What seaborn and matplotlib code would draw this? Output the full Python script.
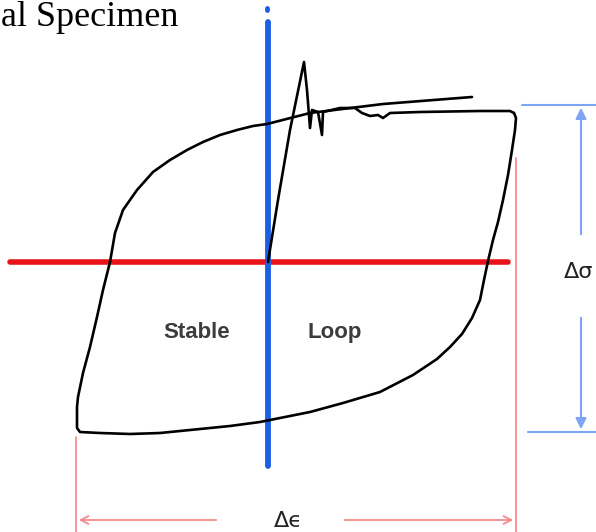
import numpy as np
import pandas as pd
import matplotlib
matplotlib.use("Agg")
import matplotlib.pyplot as plt
import seaborn as sns

sns.set_theme(style="white")

# Canvas is laid out in pixel-like units: origin of the stress-strain axes
# sits at ORIGIN, x grows to the right, y (stress) grows upward.
W, H = 596, 532
ORIGIN = (268, 262)

# Initial loading with upper yield point and yield-drop serrations (px)
load_x = [268, 278, 290, 304, 307, 310, 312, 318, 322, 323, 340, 355, 362, 370, 378, 383, 390, 420, 480, 510, 514]
load_y = [262, 200, 130, 62, 90, 128, 110, 112, 135, 112, 108, 108, 113, 116, 115, 118, 113, 112, 111, 111, 113]

# Stable loop: unloading branch, compressive bottom, reloading branch (px)
loop_x = [514, 516, 515, 512, 508, 503, 498, 493, 488, 484, 480, 472, 462, 450, 437, 413, 380, 343, 310, 280,
          260, 230, 200, 160, 130, 100, 80, 77, 77, 78, 83, 90, 97, 103, 110, 115, 123, 137, 153, 170, 187,
          203, 220, 237, 253, 267, 310, 383, 472]
loop_y = [113, 118, 130, 150, 175, 200, 222, 240, 261, 280, 300, 318, 334, 347, 359, 375, 392, 403, 412, 418,
          422, 426, 429, 433, 434, 433, 432, 428, 407, 397, 373, 347, 317, 290, 262, 233, 210, 190, 172, 160, 150,
          142, 135, 130, 126, 124, 113, 104, 97]

# Reference axes
sigma_axis_x = [10, 508]
epsilon_axis_y = [22, 466]

# Dimension markers
d_eps_left, d_eps_right, d_eps_level = 76, 516, 520
d_sig_top, d_sig_bottom, d_sig_x = 105, 432, 581


def to_xy(px, py):
    return np.asarray(px, float) - ORIGIN[0], ORIGIN[1] - np.asarray(py, float)


fig = plt.figure(figsize=(W / 100, H / 100), dpi=100)
ax = fig.add_axes([0, 0, 1, 1])
ax.set_xlim(-ORIGIN[0], W - ORIGIN[0])
ax.set_ylim(ORIGIN[1] - H, ORIGIN[1])
ax.axis("off")

red = "#e8141b"
blue = "#1c5fe6"
light_red = "#f28c8c"
light_blue = "#7ea5f3"

# stress axis (horizontal) and strain axis (vertical)
sx, sy = to_xy(sigma_axis_x, [ORIGIN[1]] * 2)
sns.lineplot(x=sx, y=sy, ax=ax, color=red, lw=4, sort=False, estimator=None, solid_capstyle="round")
ex, ey = to_xy([ORIGIN[0]] * 2, epsilon_axis_y)
sns.lineplot(x=ex, y=ey, ax=ax, color=blue, lw=4.2, sort=False, estimator=None, solid_capstyle="round")
bx, by = to_xy([ORIGIN[0] - 1, ORIGIN[0] - 1], [8, 10])
sns.lineplot(x=bx, y=by, ax=ax, color=blue, lw=3.5, sort=False, estimator=None, solid_capstyle="round")

# hysteresis curves
lx, ly = to_xy(load_x, load_y)
sns.lineplot(x=lx, y=ly, ax=ax, color="black", lw=1.9, sort=False, estimator=None)
cx, cy = to_xy(loop_x, loop_y)
sns.lineplot(x=cx, y=cy, ax=ax, color="black", lw=1.9, sort=False, estimator=None)

# strain range (Δε) dimension
for px, top in [(d_eps_left, 437), (d_eps_right, 158)]:
    vx, vy = to_xy([px, px], [top, H + 2])
    sns.lineplot(x=vx, y=vy, ax=ax, color=light_red, lw=1.3, sort=False, estimator=None)
arrow_red = dict(arrowstyle="->", color=light_red, lw=1.3, mutation_scale=14)
ax.annotate("", xy=to_xy(d_eps_left, d_eps_level), xytext=to_xy(219, d_eps_level), arrowprops=arrow_red)
ax.annotate("", xy=to_xy(d_eps_right, d_eps_level), xytext=to_xy(342, d_eps_level), arrowprops=arrow_red)
ax.text(*to_xy(288, d_eps_level + 1), "Δϵ", ha="center", va="center", fontsize=16,
        family="DejaVu Sans", color="#222222")

# stress range (Δσ) dimension
for py, x0 in [(d_sig_top, 522), (d_sig_bottom, 528)]:
    hx, hy = to_xy([x0, W + 2], [py, py])
    sns.lineplot(x=hx, y=hy, ax=ax, color=light_blue, lw=1.5, sort=False, estimator=None)
arrow_blue = dict(arrowstyle="-|>", color=light_blue, lw=1.5, mutation_scale=16)
ax.annotate("", xy=to_xy(d_sig_x, d_sig_top), xytext=to_xy(d_sig_x, 237), arrowprops=arrow_blue)
ax.annotate("", xy=to_xy(d_sig_x, d_sig_bottom), xytext=to_xy(d_sig_x, 315), arrowprops=arrow_blue)
ax.text(*to_xy(564, 272), "Δσ", ha="left", va="center", fontsize=16,
        family="DejaVu Sans", color="#222222")

# region labels
for txt, px in [("Stable", 197), ("Loop", 335)]:
    ax.text(*to_xy(px, 332), txt, ha="center", va="center", fontsize=16,
            family="Liberation Sans", fontweight="bold", color="#3c3c3c")

# heading
ax.text(*to_xy(1, 1), "al Specimen", ha="left", va="top", fontsize=26,
        family="Liberation Serif", color="black")

fig.savefig("out.png", dpi=100)
